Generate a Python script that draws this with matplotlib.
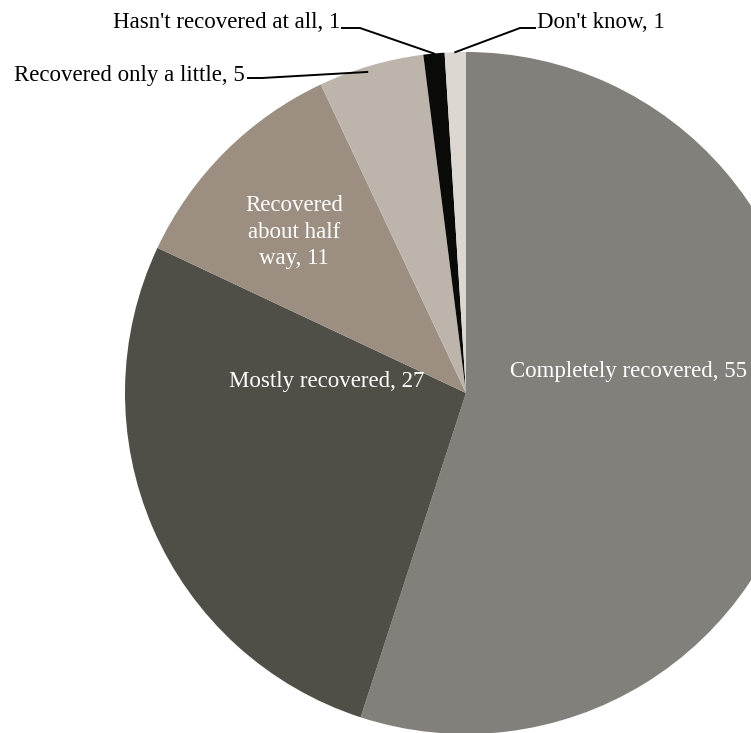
import numpy as np
import matplotlib
matplotlib.use("Agg")
import matplotlib.pyplot as plt

# data
labels = ["Completely recovered", "Mostly recovered", "Recovered about half way",
          "Recovered only a little", "Hasn't recovered at all", "Don't know"]
values = [55, 27, 11, 5, 1, 1]
colors = ["#82807b", "#4f4f48", "#9c8f82", "#bdb5ac", "#0a0a08", "#dcd7d1"]

W, H = 751, 733
CX, CY, R = 466, H - 393, 341

plt.rcParams['font.family'] = ['Liberation Serif', 'DejaVu Serif']

fig = plt.figure(figsize=(W / 100, H / 100), dpi=100)
ax = fig.add_axes([0, 0, 1, 1])
wedges, _ = ax.pie(values, colors=colors, startangle=90, counterclock=False,
                   center=(CX, CY), radius=R, frame=True,
                   wedgeprops=dict(linewidth=0))
ax.set_xlim(0, W)
ax.set_ylim(0, H)
ax.set_aspect('equal')
ax.axis('off')

fs = 16.5
# labels inside
ax.text(628, H - 371, f"{labels[0]}, {values[0]}", color="white", fontsize=fs,
        ha="center", va="center")
ax.text(327, H - 381, f"{labels[1]}, {values[1]}", color="white", fontsize=fs,
        ha="center", va="center")
ax.text(294, H - 232, f"Recovered\nabout half\nway, {values[2]}", color="white",
        fontsize=fs, ha="center", va="center", linespacing=1.35)


def edge_point(i, frac=0.5, rr=1.0):
    w = wedges[i]
    a = np.deg2rad(w.theta1 + (w.theta2 - w.theta1) * frac)
    return CX + R * rr * np.cos(a), CY + R * rr * np.sin(a)


# outside labels with leader lines
px, py = edge_point(3, 0.55, 0.985)
ax.plot([248, 262, px], [H - 78, H - 78, py], color="black", lw=1.4)
ax.text(245, H - 75, f"{labels[3]}, {values[3]}", fontsize=fs, ha="right", va="center")

px, py = edge_point(4, 0.5, 1.0)
ax.plot([342, 360, px], [H - 28, H - 28, py], color="black", lw=1.4)
ax.text(340, H - 22, f"{labels[4]}, {values[4]}", fontsize=fs, ha="right", va="center")

px, py = edge_point(5, 0.5, 1.0)
ax.plot([535, 520, px], [H - 28, H - 28, py], color="black", lw=1.4)
ax.text(537, H - 22, f"{labels[5]}, {values[5]}", fontsize=fs, ha="left", va="center")

fig.savefig("out.png", dpi=100, facecolor="white")
